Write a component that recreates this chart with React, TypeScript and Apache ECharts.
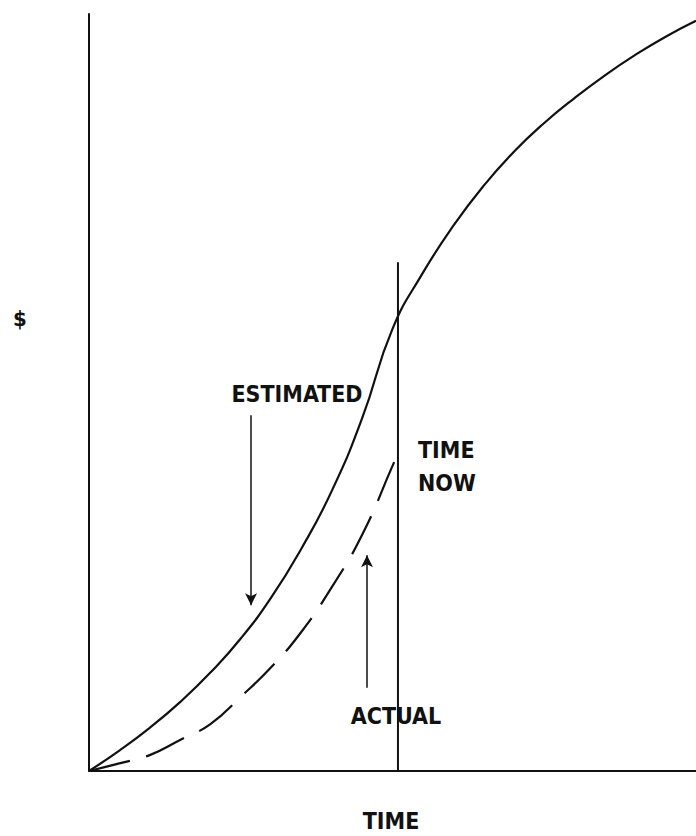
import React, { useEffect, useRef } from "react";
import * as echarts from "echarts";

// Time (percent of horizontal extent)
const estimatedX = [0, 5, 10, 15, 20, 25, 30, 35, 40, 45, 50, 55, 60, 65, 70, 75, 80, 85, 90, 95, 100];
// Estimated cumulative cost ($, percent of vertical extent)
const estimatedY = [0, 2.7, 5.7, 9.1, 13.0, 17.5, 22.9, 29.4, 37.0, 46.6, 58.4, 65.8, 72.0, 77.3, 81.8, 85.6, 88.9, 91.9, 94.6, 97.0, 99.1];

// Actual cumulative cost up to "time now"
const actualX = [0, 5, 10, 15, 20, 25, 30, 35, 40, 45, 50, 50.9];
const actualY = [0, 1.0, 2.1, 4.1, 6.2, 9.8, 13.7, 18.4, 24.3, 31.2, 40.3, 42.0];

// Time-now marker
const timeNowX = 50.9;
const timeNowTop = 67.2;

// Annotation arrows [x, yFrom, yTo]
const estimatedArrow = [26.7, 47.0, 21.9];
const actualArrow = [45.8, 11.0, 28.5];

const labels = {
  yAxis: "$",
  xAxis: "TIME",
  estimated: "ESTIMATED",
  timeNow: ["TIME", "NOW"],
  actual: "ACTUAL",
};

const INK = "#111";
const FONT = "'DejaVu Sans Condensed', 'DejaVu Sans', sans-serif";

export default function App() {
  const ref = useRef<HTMLDivElement>(null);

  useEffect(() => {
    if (!ref.current) return;
    const chart = echarts.init(ref.current, undefined, { renderer: "svg" });

    const textStyle = (extra: any) => ({
      fill: INK,
      font: `bold 23px ${FONT}`,
      textAlign: "center",
      textVerticalAlign: "middle",
      ...extra,
    });

    const arrowLine = (a: number[]) => [
      { coord: [a[0], a[1]] },
      { coord: [a[0], a[2]] },
    ];

    chart.setOption({
      animation: false,
      backgroundColor: "#fff",
      grid: { left: 89, right: 0, top: 14, bottom: 65 },
      xAxis: {
        type: "value",
        min: 0,
        max: 100,
        axisLine: { show: true, lineStyle: { color: INK, width: 2 } },
        axisTick: { show: false },
        axisLabel: { show: false },
        splitLine: { show: false },
      },
      yAxis: {
        type: "value",
        min: 0,
        max: 100,
        axisLine: { show: true, lineStyle: { color: INK, width: 2 } },
        axisTick: { show: false },
        axisLabel: { show: false },
        splitLine: { show: false },
      },
      series: [
        {
          type: "line",
          name: "Estimated",
          data: estimatedX.map((x, i) => [x, estimatedY[i]]),
          smooth: 0.5,
          symbol: "none",
          lineStyle: { color: INK, width: 2.2 },
          markLine: {
            silent: true,
            symbol: ["none", "arrow"],
            symbolSize: [9, 12],
            label: { show: false },
            lineStyle: { color: INK, width: 1.5, type: "solid" },
            data: [arrowLine(estimatedArrow), arrowLine(actualArrow)],
          },
        },
        {
          type: "line",
          name: "Actual",
          data: actualX.map((x, i) => [x, actualY[i]]),
          smooth: 0.5,
          symbol: "none",
          lineStyle: { color: INK, width: 2.2, type: [42, 17] },
        },
        {
          type: "line",
          name: "Time now",
          data: [
            [timeNowX, 0],
            [timeNowX, timeNowTop],
          ],
          symbol: "none",
          lineStyle: { color: INK, width: 2 },
        },
      ],
      graphic: [
        { type: "text", style: { ...textStyle({}), text: labels.yAxis, x: 20, y: 318, font: `bold 22px ${FONT}` } },
        { type: "text", style: { ...textStyle({}), text: labels.estimated, x: 297, y: 394 } },
        { type: "text", style: { ...textStyle({ textAlign: "left" }), text: labels.timeNow[0], x: 418, y: 450 } },
        { type: "text", style: { ...textStyle({ textAlign: "left" }), text: labels.timeNow[1], x: 418, y: 483 } },
        { type: "text", style: { ...textStyle({}), text: labels.actual, x: 396, y: 716 } },
        { type: "text", style: { ...textStyle({}), text: labels.xAxis, x: 391, y: 821 } },
      ],
    });

    return () => chart.dispose();
  }, []);

  return (
    <div
      ref={ref}
      style={{ position: "fixed", left: 0, top: 0, width: 696, height: 836, background: "#fff" }}
    />
  );
}
